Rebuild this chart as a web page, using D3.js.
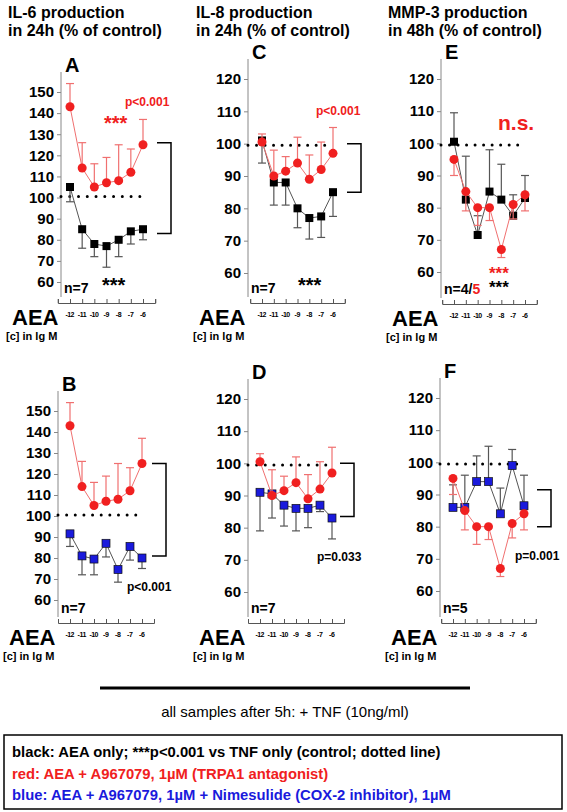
<!DOCTYPE html>
<html>
<head>
<meta charset="UTF-8" />
<script src="https://cdn.jsdelivr.net/npm/d3@7"></script>
<style>
  body { margin: 0; background: #fff; }
  text { font-family: "Liberation Sans", Arial, sans-serif; }
</style>
</head>
<body>
<svg id="fig" width="567" height="812"></svg>
<script>
const conc = [-12, -11, -10, -9, -8, -7, -6];

// IL-6 (A, B)
const il6Black = [105, 85, 78, 77, 80, 84, 85];
const il6BlackErr = [98, 76, 72, 67, 72, 78, 80];
const il6Red = [143, 114, 105, 107, 108, 112, 125];
const il6RedErr = [154, 126, 116, 119, 125, 123, 137];
const il6Blue = [91.5, 81, 79.5, 87, 74.5, 85.5, 80];
const il6BlueErr = [85.5, 72, 72, 80.5, 68.5, 79, 75];

// IL-8 (C, D)
const il8Black = [101, 88, 88, 80, 77, 77.5, 85];
const il8BlackErr = [94, 81, 81, 74, 70.5, 71, 77.5];
const il8Red = [100.5, 90, 91.5, 94, 89, 92, 97];
const il8RedErr = [103, 98, 96, 102, 96.5, 100.5, 105];
const il8Blue = [91, 90.5, 87, 86, 86, 87, 83];
const il8BlueErr = [79, 83, 80.5, 79, 80, 85, 76.5];

// MMP-3 (E, F)
const mmpBlack = [100.5, 82.5, 71.5, 85, 82.5, 77.5, 83];
const mmpBlackErr = [109.5, 96, 77.5, 98, 93.5, 84, 90];
const mmpRed = [95, 85, 80, 80, 67, 81, 84];
const mmpRedErr = [90, 79, 74.5, 76, 64.5, 76.5, 79];
const mmpBlue = [86, 86, 94, 94, 84, 99, 86.5];
const mmpBlueErr = [93, 96, 102, 105, 92, 104, 96];

const il6Ticks = [60, 70, 80, 90, 100, 110, 120, 130, 140, 150];
const il8Ticks = [60, 70, 80, 90, 100, 110, 120];

const RED = "#f02020", PINK = "#f07070", BLUE = "#1a1adc", GREY = "#555";

const svg = d3.select("#fig");

// titles
const titles = [
  { x: 8, lines: ["IL-6 production", "in 24h (% of control)"] },
  { x: 196, lines: ["IL-8 production", "in 24h (% of control)"] },
  { x: 388, lines: ["MMP-3 production", "in 48h (% of control)"] }
];
titles.forEach(t => t.lines.forEach((l, i) =>
  svg.append("text").attr("x", t.x).attr("y", 18 + i * 18).attr("font-size", 16)
    .attr("font-weight", "bold").text(l)));

const panels = [
  { id: "A", ax: 61, x0: 70, x1: 143, yTop: 92, yBot: 282, vTop: 150, ticks: il6Ticks, dot: 100.5, xAxisY: 303,
    s1: [il6Red, il6RedErr, "circle"], s2: [il6Black, il6BlackErr, "black"], br: [126, 83, 157],
    notes: [["p<0.001", 125, 106, RED, 12], ["***", 104, 130, RED, 20], ["***", 102, 292, "#000", 20]], n: ["n=7"] },
  { id: "C", ax: 248, x0: 262, x1: 333, yTop: 79, yBot: 273, vTop: 120, ticks: il8Ticks, dot: 99.5, xAxisY: 303,
    s1: [il8Red, il8RedErr, "circle"], s2: [il8Black, il8BlackErr, "black"], br: [100, 85, 347],
    notes: [["p<0.001", 316, 115, RED, 12], ["***", 298, 292, "#000", 20]], n: ["n=7"] },
  { id: "E", ax: 441, x0: 454, x1: 525, yTop: 79, yBot: 272, vTop: 120, ticks: il8Ticks, dot: 99.5, xAxisY: 304,
    s1: [mmpRed, mmpRedErr, "circle"], s2: [mmpBlack, mmpBlackErr, "black"], br: null,
    notes: [["n.s.", 498, 130, RED, 21], ["***", 489, 279, RED, 17], ["***", 489, 293, "#000", 17]], n: ["n=4/", "5"] },
  { id: "B", ax: 58, x0: 70, x1: 142, yTop: 411, yBot: 600, vTop: 150, ticks: il6Ticks, dot: 100.5, xAxisY: 623,
    s1: [il6Red, il6RedErr, "circle"], s2: [il6Blue, il6BlueErr, "blue"], br: [125, 81, 152],
    notes: [["p<0.001", 127, 591, "#000", 12]], n: ["n=7"] },
  { id: "D", ax: 248, x0: 260, x1: 332, yTop: 399, yBot: 592, vTop: 120, ticks: il8Ticks, dot: 99.5, xAxisY: 623,
    s1: [il8Red, il8RedErr, "circle"], s2: [il8Blue, il8BlueErr, "blue"], br: [100, 83.5, 340],
    notes: [["p=0.033", 317, 561, "#000", 12]], n: ["n=7"] },
  { id: "F", ax: 440, x0: 453, x1: 524, yTop: 398, yBot: 591, vTop: 120, ticks: il8Ticks, dot: 99.5, xAxisY: 623,
    s1: [mmpRed, mmpRedErr, "circle"], s2: [mmpBlue, mmpBlueErr, "blue"], br: [91.5, 80, 537],
    notes: [["p=0.001", 515, 560, "#000", 12]], n: ["n=5"] }
];

panels.forEach(p => {
  const g = svg.append("g");
  const x = d3.scaleLinear().domain([-12, -6]).range([p.x0, p.x1]);
  const y = d3.scaleLinear().domain([60, p.vTop]).range([p.yBot, p.yTop]);
  const spacing = (p.x1 - p.x0) / 6;

  g.append("text").attr("x", p.ax + 4).attr("y", p.yTop - 20).attr("font-size", 20)
    .attr("font-weight", "bold").text(p.id);

  // y axis
  const yAxis = g.append("g").attr("transform", `translate(${p.ax},0)`)
    .call(d3.axisLeft(y).tickValues(p.ticks).tickSize(4).tickPadding(3));
  yAxis.select(".domain").attr("d", `M0,${p.yTop - 20}V${p.xAxisY - 6}`).attr("stroke", "#888");
  yAxis.selectAll(".tick line").attr("stroke", "#888");
  yAxis.selectAll("text").attr("font-size", 15).attr("font-weight", "bold")
    .attr("font-family", "Liberation Sans, Arial").attr("fill", "#000");

  // x axis
  const xa = d3.scaleLinear().domain([-13, -5]).range([p.x0 - spacing, p.x1 + spacing]);
  const xAxis = g.append("g").attr("transform", `translate(0,${p.xAxisY})`)
    .call(d3.axisTop(xa).tickValues(d3.range(-13, -4.9, 1)).tickSize(4).tickFormat(""));
  xAxis.select(".domain").attr("stroke", "#555");
  xAxis.selectAll(".tick line").attr("stroke", "#555");
  conc.forEach(c => g.append("text").attr("x", x(c)).attr("y", p.xAxisY + 14)
    .attr("text-anchor", "middle").attr("font-size", 7).attr("font-weight", "bold")
    .attr("textLength", c <= -10 ? 9 : 6).text(c));
  g.append("text").attr("x", p.ax - 49).attr("y", p.xAxisY + 22).attr("font-size", 22)
    .attr("font-weight", "bold").text("AEA");
  g.append("text").attr("x", p.ax - 55).attr("y", p.xAxisY + 37).attr("font-size", 11)
    .attr("font-weight", "bold").text("[c] in lg M");

  // dotted control line
  g.append("line").attr("x1", p.ax).attr("x2", x(-6)).attr("y1", y(p.dot)).attr("y2", y(p.dot))
    .attr("stroke", "#000").attr("stroke-width", 3).attr("stroke-linecap", "round")
    .attr("stroke-dasharray", `0 ${spacing * 0.72}`);

  const drawSeries = (vals, errs, kind) => {
    const lineCol = kind === "circle" ? PINK : GREY;
    vals.forEach((v, i) => {
      g.append("line").attr("x1", x(conc[i])).attr("x2", x(conc[i])).attr("y1", y(v)).attr("y2", y(errs[i]))
        .attr("stroke", lineCol).attr("stroke-width", 1.2);
      g.append("line").attr("x1", x(conc[i]) - 4).attr("x2", x(conc[i]) + 4).attr("y1", y(errs[i])).attr("y2", y(errs[i]))
        .attr("stroke", lineCol).attr("stroke-width", 1.2);
    });
    g.append("path").datum(vals)
      .attr("d", d3.line().x((d, i) => x(conc[i])).y(d => y(d)))
      .attr("fill", "none").attr("stroke", lineCol).attr("stroke-width", 1);
    vals.forEach((v, i) => {
      if (kind === "circle") {
        g.append("circle").attr("cx", x(conc[i])).attr("cy", y(v)).attr("r", 4.5).attr("fill", RED);
      } else {
        g.append("rect").attr("x", x(conc[i]) - 4).attr("y", y(v) - 4).attr("width", 8).attr("height", 8)
          .attr("fill", kind === "blue" ? BLUE : "#000")
          .attr("stroke", kind === "blue" ? "#111" : "none").attr("stroke-width", 0.7);
      }
    });
  };
  drawSeries(...p.s2);
  drawSeries(...p.s1);

  if (p.br) {
    const [a, b, bx] = p.br;
    g.append("path").attr("d", `M${bx},${y(a)}H${bx + 14}V${y(b)}H${bx}`)
      .attr("fill", "none").attr("stroke", "#000").attr("stroke-width", 1.5);
  }
  p.notes.forEach(([t, nx, ny, col, fs]) =>
    g.append("text").attr("x", nx).attr("y", ny).attr("font-size", fs).attr("font-weight", "bold")
      .attr("fill", col).text(t));
  const nt = g.append("text").attr("x", p.ax + 3).attr("y", p.xAxisY - 10).attr("font-size", 14)
    .attr("font-weight", "bold");
  nt.append("tspan").text(p.n[0]);
  if (p.n[1]) nt.append("tspan").attr("fill", RED).text(p.n[1]);
});

// bottom note
svg.append("line").attr("x1", 100).attr("x2", 470).attr("y1", 688).attr("y2", 688)
  .attr("stroke", "#000").attr("stroke-width", 3);
svg.append("text").attr("x", 285).attr("y", 717).attr("text-anchor", "middle").attr("font-size", 15)
  .text("all samples after 5h: + TNF (10ng/ml)");

const legendLines = [
  ["black: AEA only; ***p<0.001 vs TNF only (control; dotted line)", "#000"],
  ["red: AEA + A967079, 1µM (TRPA1 antagonist)", RED],
  ["blue: AEA + A967079, 1µM + Nimesulide (COX-2 inhibitor), 1µM", BLUE]
];
svg.append("rect").attr("x", 4).attr("y", 735).attr("width", 558).attr("height", 74)
  .attr("fill", "none").attr("stroke", "#000").attr("stroke-width", 1.5);
legendLines.forEach(([t, c], i) =>
  svg.append("text").attr("x", 12).attr("y", 757 + i * 21.5).attr("font-size", 14.8)
    .attr("font-weight", "bold").attr("fill", c).text(t));
</script>
</body>
</html>
